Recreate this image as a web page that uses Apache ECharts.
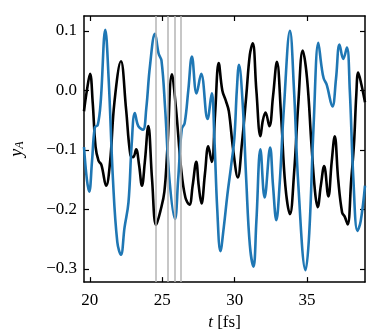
<!DOCTYPE html>
<html>
<head>
<meta charset="utf-8">
<script src="https://cdn.jsdelivr.net/npm/echarts@6/dist/echarts.min.js"></script>
<style>
  html, body { margin: 0; padding: 0; background: #fff; }
  #chart { width: 374px; height: 336px; }
</style>
</head>
<body>
<div id="chart"></div>
<script>
// time axis ticks and y ticks
const xTicks = [20, 25, 30, 35]
const yTicks = [-0.3, -0.2, -0.1, 0.0, 0.1]
// marker times (grey vertical lines)
const markerTimes = [24.55, 25.35, 25.85, 26.27]

// black curve [t, y]
const blackData = [
  [19.6, -0.035], [19.8, 0.0], [20.02, 0.028], [20.2, -0.02], [20.4, -0.095],
  [20.6, -0.118], [20.8, -0.125], [21.13, -0.16], [21.4, -0.12], [21.7, -0.02],
  [22.15, 0.049], [22.5, -0.03], [22.8, -0.108], [23.0, -0.112], [23.2, -0.099],
  [23.4, -0.125], [23.6, -0.16], [23.8, -0.12], [24.04, -0.06], [24.3, -0.15],
  [24.58, -0.226], [24.9, -0.2], [25.15, -0.17], [25.35, -0.1], [25.67, 0.027],
  [25.95, -0.03], [26.3, -0.13], [26.6, -0.18], [26.88, -0.192], [27.1, -0.16],
  [27.35, -0.12], [27.52, -0.16], [27.71, -0.19], [27.95, -0.14], [28.18, -0.094],
  [28.42, -0.12], [28.65, -0.04], [28.9, 0.046], [29.15, 0.0], [29.4, -0.018],
  [29.6, -0.035], [29.9, -0.1], [30.22, -0.146], [30.5, -0.09], [30.8, -0.01],
  [31.05, 0.06], [31.25, 0.079], [31.5, 0.0], [31.78, -0.077], [31.95, -0.05],
  [32.13, -0.037], [32.4, -0.06], [32.65, -0.01], [32.92, 0.048], [33.2, -0.04],
  [33.5, -0.16], [33.82, -0.208], [34.1, -0.14], [34.4, -0.02], [34.7, 0.067],
  [35.0, 0.02], [35.3, -0.09], [35.55, -0.17], [35.73, -0.196], [35.95, -0.16],
  [36.18, -0.127], [36.47, -0.178], [36.7, -0.12], [36.91, -0.077], [37.15, -0.15],
  [37.42, -0.205], [37.6, -0.212], [37.8, -0.225], [38.05, -0.15], [38.24, -0.09],
  [38.4, -0.007], [38.53, 0.03], [38.75, 0.01], [39.0, -0.02]
]

// blue curve [t, y]
const blueData = [
  [19.6, -0.095], [19.8, -0.15], [19.96, -0.17], [20.15, -0.12], [20.35, -0.062],
  [20.55, -0.058], [20.75, -0.02], [21.07, 0.102], [21.3, 0.02], [21.6, -0.15],
  [21.9, -0.255], [22.15, -0.276], [22.4, -0.23], [22.67, -0.188], [22.89, -0.091],
  [23.11, -0.038], [23.35, -0.06], [23.67, -0.066], [23.9, -0.03], [24.15, 0.04],
  [24.5, 0.095], [24.75, 0.062], [24.95, 0.05], [25.2, -0.03], [25.5, -0.15],
  [25.88, -0.216], [26.1, -0.15], [26.35, -0.065], [26.55, -0.055], [26.8, 0.0],
  [27.05, 0.057], [27.37, -0.005], [27.69, 0.028], [28.13, -0.048], [28.42, -0.005],
  [28.6, -0.08], [28.8, -0.2], [29.02, -0.27], [29.25, -0.23], [29.5, -0.175],
  [29.75, -0.128], [29.98, -0.08], [30.15, 0.0], [30.3, 0.043], [30.55, -0.02],
  [30.8, -0.15], [31.05, -0.26], [31.3, -0.296], [31.5, -0.22], [31.78, -0.099],
  [32.07, -0.18], [32.45, -0.096], [32.65, -0.16], [32.88, -0.218], [33.1, -0.16],
  [33.4, -0.03], [33.82, 0.1], [34.1, 0.0], [34.4, -0.16], [34.9, -0.302],
  [35.15, -0.24], [35.45, -0.06], [35.78, 0.08], [36.0, 0.04], [36.15, 0.02],
  [36.35, 0.01], [36.75, -0.027], [37.0, 0.02], [37.24, 0.077], [37.5, 0.053],
  [37.75, 0.072], [37.95, 0.0], [38.2, -0.15], [38.48, -0.236], [38.7, -0.22],
  [39.0, -0.16]
]

const font = 'Liberation Serif'
const fmt = v => (v < 0 ? '\u2212' : '') + Math.abs(v).toFixed(1)

const tickStyle = (vals) => ({
  show: true, inside: true, length: 5, customValues: vals,
  lineStyle: { color: '#000', width: 1.2 }
})

const chart = echarts.init(document.getElementById('chart'))
chart.setOption({
  animation: false,
  backgroundColor: '#fff',
  grid: { left: 74, right: 9, top: 16, bottom: 51, show: false },
  xAxis: [
    {
      type: 'value', min: 19.6, max: 39, position: 'bottom',
      axisLine: { show: true, onZero: false, lineStyle: { color: '#000', width: 1.5 } },
      axisTick: tickStyle(xTicks),
      axisLabel: { customValues: xTicks, color: '#000', fontFamily: font, fontSize: 17, margin: 10 },
      splitLine: { show: false },
      name: '{i|t} [fs]', nameLocation: 'middle', nameGap: 28,
      nameTextStyle: {
        color: '#000', fontFamily: font, fontSize: 17,
        rich: { i: { fontStyle: 'italic', fontFamily: font, fontSize: 17, color: '#000' } }
      }
    },
    {
      type: 'value', min: 19.6, max: 39, position: 'top',
      axisLine: { show: true, onZero: false, lineStyle: { color: '#000', width: 1.5 } },
      axisTick: tickStyle(xTicks),
      axisLabel: { show: false },
      splitLine: { show: false }
    }
  ],
  yAxis: [
    {
      type: 'value', min: -0.322, max: 0.125, position: 'left',
      axisLine: { show: true, onZero: false, lineStyle: { color: '#000', width: 1.5 } },
      axisTick: tickStyle(yTicks),
      axisLabel: { customValues: yTicks, formatter: fmt, color: '#000', fontFamily: font, fontSize: 17, margin: 7 },
      splitLine: { show: false },
      name: '{i|y}{s|A}', nameLocation: 'middle', nameGap: 58,
      nameTextStyle: {
        color: '#000', fontFamily: font, fontSize: 17,
        rich: {
          i: { fontStyle: 'italic', fontFamily: font, fontSize: 18, color: '#000' },
          s: { fontStyle: 'italic', fontFamily: font, fontSize: 12, color: '#000', padding: [6, 0, 0, 0] }
        }
      }
    },
    {
      type: 'value', min: -0.322, max: 0.125, position: 'right',
      axisLine: { show: true, onZero: false, lineStyle: { color: '#000', width: 1.5 } },
      axisTick: tickStyle(yTicks),
      axisLabel: { show: false },
      splitLine: { show: false }
    }
  ],
  series: [
    {
      type: 'line', data: [], z: 1, silent: true,
      markLine: {
        silent: true, symbol: ['none', 'none'], label: { show: false },
        lineStyle: { color: '#b5b5b5', width: 1.5, type: 'solid' },
        data: markerTimes.map(t => ({ xAxis: t }))
      }
    },
    {
      name: 'black', type: 'line', data: blackData, smooth: 0.4, showSymbol: false, z: 3,
      lineStyle: { color: '#000', width: 2.6 }
    },
    {
      name: 'blue', type: 'line', data: blueData, smooth: 0.4, showSymbol: false, z: 4,
      lineStyle: { color: '#1f77b4', width: 2.6 }
    }
  ]
})
</script>
</body>
</html>
